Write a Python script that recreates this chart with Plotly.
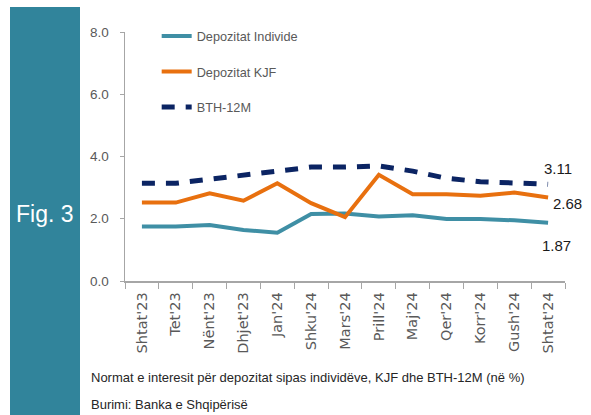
import plotly.graph_objects as go

categories = ["Shtat'23", "Tet'23", "Nënt'23", "Dhjet'23", "Jan'24", "Shku'24", "Mars'24",
              "Prill'24", "Maj'24", "Qer'24", "Korr'24", "Gush'24", "Shtat'24"]
depozitat_individe = [1.75, 1.75, 1.80, 1.64, 1.55, 2.15, 2.17, 2.07, 2.11, 1.99, 1.99, 1.95, 1.87]
depozitat_kjf = [2.52, 2.52, 2.82, 2.58, 3.14, 2.50, 2.05, 3.41, 2.79, 2.79, 2.74, 2.84, 2.68]
bth_12m = [3.14, 3.14, 3.27, 3.40, 3.50, 3.66, 3.66, 3.70, 3.53, 3.30, 3.19, 3.17, 3.11]
y_ticks = [0, 2, 4, 6, 8]
end_labels = ["3.11", "2.68", "1.87"]

NARROW = "Liberation Sans, Arial, sans-serif"
GREY = "#595959"

fig = go.Figure()
fig.add_trace(go.Scatter(x=categories, y=depozitat_individe, mode="lines", name="Depozitat Individe",
                         line=dict(color="#3f8fa5", width=4), legendgroup="a"))
fig.add_trace(go.Scatter(x=categories, y=depozitat_kjf, mode="lines", name="Depozitat KJF",
                         line=dict(color="#e8700f", width=4), legendgroup="b"))
fig.add_trace(go.Scatter(x=categories, y=bth_12m, mode="lines", name="BTH-12M",
                         line=dict(color="#0b2463", width=5, dash="13px,11px"), legendgroup="c"))

W, H = 591, 415
L, R, T, B = 125, 26, 32, 134
pw, ph = W - L - R, H - T - B

def px(x):
    return (x - L) / pw

def py(y):
    return (H - B - y) / ph

fig.add_shape(type="rect", xref="paper", yref="paper", x0=px(10), x1=px(80), y0=py(415), y1=py(7),
              fillcolor="#31849b", line=dict(width=0), layer="below")

annotations = [
    dict(text="Fig. 3", x=px(45), y=py(214), xref="paper", yref="paper", showarrow=False,
         font=dict(family=NARROW, size=23, color="white"), xanchor="center", yanchor="middle"),
    dict(text="Normat e interesit për depozitat sipas individëve, KJF dhe BTH-12M (në %)",
         x=px(89), y=py(377), xref="paper", yref="paper", showarrow=False,
         font=dict(family=NARROW, size=13, color="#262626"), xanchor="left", yanchor="middle"),
    dict(text="Burimi: Banka e Shqipërisë",
         x=px(89), y=py(404), xref="paper", yref="paper", showarrow=False,
         font=dict(family=NARROW, size=13, color="#262626"), xanchor="left", yanchor="middle"),
]
last = categories[-1]
for txt, yv, xs, ys in [(end_labels[0], bth_12m[-1], 10, 16),
                        (end_labels[1], depozitat_kjf[-1], 19, -6),
                        (end_labels[2], depozitat_individe[-1], 8, -23)]:
    annotations.append(dict(text=txt, x=last, y=yv, xref="x", yref="y", showarrow=False,
                            xshift=xs, yshift=ys, font=dict(family=NARROW, size=15, color="#1a1a1a"),
                            xanchor="center", yanchor="middle"))

fig.update_layout(
    width=W, height=H,
    margin=dict(l=L, r=R, t=T, b=B, pad=0),
    paper_bgcolor="white", plot_bgcolor="white",
    annotations=annotations,
    showlegend=True,
    legend=dict(x=0.072, y=1.043, xanchor="left", yanchor="top", bgcolor="rgba(0,0,0,0)",
                font=dict(family=NARROW, size=12.7, color=GREY), traceorder="grouped",
                tracegroupgap=16),
    xaxis=dict(type="category", range=[-0.5, 12.5], showline=True, linecolor="#a6a6a6", linewidth=1.5,
               ticks="outside", tickson="boundaries", ticklen=6, tickcolor="#a6a6a6",
               tickangle=-90, tickfont=dict(family="DejaVu Sans", size=14.5, color=GREY),
               ticklabelstandoff=4,
               showgrid=False, zeroline=False, fixedrange=True),
    yaxis=dict(range=[0, 8], tickvals=y_ticks, tickformat=".1f", showline=True, linecolor="#a6a6a6",
               linewidth=1.5, ticks="outside", ticklen=4, tickcolor="#a6a6a6",
               tickfont=dict(family=NARROW, size=13.5, color=GREY), showgrid=False, zeroline=False,
               ticklabelstandoff=8, fixedrange=True),
)

fig.write_html("out.html", config={"displayModeBar": False, "staticPlot": True},
               post_script="document.body.style.margin='0';")
